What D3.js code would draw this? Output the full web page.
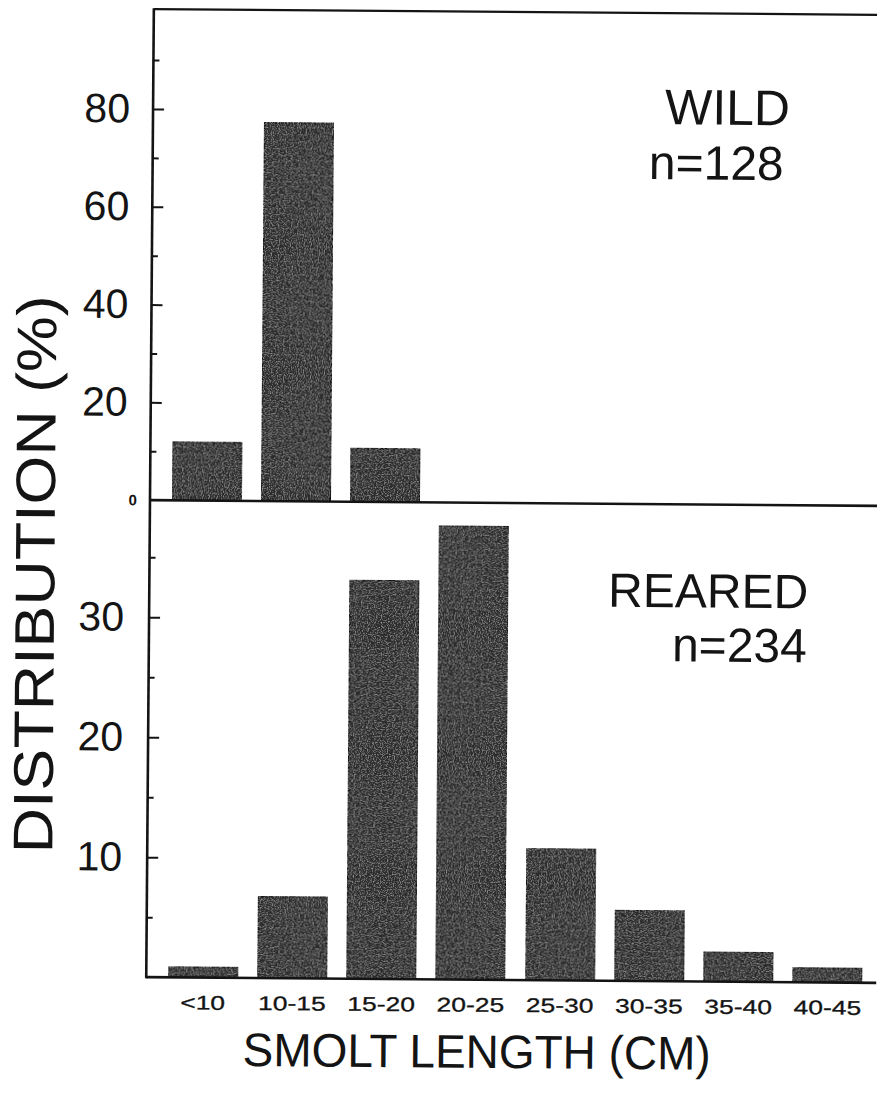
<!DOCTYPE html>
<html>
<head>
<meta charset="utf-8">
<script src="https://cdn.jsdelivr.net/npm/d3@7"></script>
<style>
  body { margin: 0; background: #fff; }
  svg { display: block; }
  text { font-family: "Liberation Sans", Arial, Helvetica, sans-serif; fill: #141414; }
</style>
</head>
<body>
<svg id="chart" width="877" height="1098"></svg>
<script>
// Smolt length classes (cm)
const categories = ["<10", "10-15", "15-20", "20-25", "25-30", "30-35", "35-40", "40-45"];
// Percent of fish in each length class
const wildCategories = ["<10", "10-15", "15-20"];
const wildValues = [11.9, 77.4, 10.9];
const rearedValues = [0.9, 6.8, 33.2, 37.8, 11.0, 5.9, 2.5, 1.2];
// Axis ticks
const wildMajorTicks = [20, 40, 60, 80];
const wildMinorTicks = [10, 30, 50, 70, 90];
const rearedMajorTicks = [10, 20, 30];
const rearedMinorTicks = [5, 15, 25, 35];
// Panel captions
const wildCaption = ["WILD", "n=128"];
const rearedCaption = ["REARED", "n=234"];

const svg = d3.select("#chart");
const ink = "#141414";
const barFill = "#2b2b2b";

// Light speckle on the solid bars
const defs = svg.append("defs");
const grain = defs.append("filter").attr("id", "grain").attr("x", 0).attr("y", 0).attr("width", 1).attr("height", 1);
grain.append("feTurbulence").attr("type", "fractalNoise").attr("baseFrequency", 0.85).attr("numOctaves", 1).attr("seed", 4).attr("result", "noise");
grain.append("feColorMatrix").attr("in", "noise").attr("type", "matrix")
  .attr("values", "0 0 0 0 0.62  0 0 0 0 0.62  0 0 0 0 0.62  0 0 0 1.6 -0.78").attr("result", "specks");
grain.append("feComposite").attr("in", "specks").attr("in2", "SourceGraphic").attr("operator", "in").attr("result", "clipped");
const merge = grain.append("feMerge");
merge.append("feMergeNode").attr("in", "SourceGraphic");
merge.append("feMergeNode").attr("in", "clipped");

// Whole figure sits slightly skewed on the page
const fig = svg.append("g").attr("transform", "rotate(0.45 512 500)");

const axisX = 150, rightX = 880;
const topY = 12, midY = 503, baseY = 980;

const x = d3.scaleBand().domain(categories).range([162, 876])
  .paddingInner(0.227).paddingOuter(0.1135);
const yWild = d3.scaleLinear().domain([0, 100]).range([midY, midY - 489]);
const yReared = d3.scaleLinear().domain([0, 39.75]).range([baseY, midY]);

// Bars
function drawBars(cats, vals, y) {
  fig.append("g").selectAll("rect").data(cats.map((c, i) => ({ c, v: vals[i] })))
    .join("rect")
    .attr("x", d => x(d.c))
    .attr("width", x.bandwidth())
    .attr("y", d => y(d.v))
    .attr("height", d => y(0) - y(d.v))
    .attr("fill", barFill)
    .attr("stroke", "#0c0c0c")
    .attr("stroke-width", 1.4)
    .attr("filter", "url(#grain)");
}
drawBars(wildCategories, wildValues, yWild);
drawBars(categories, rearedValues, yReared);

// Frame lines
const frame = fig.append("g").attr("stroke", ink).attr("fill", "none");
frame.append("line").attr("x1", axisX).attr("x2", rightX).attr("y1", topY).attr("y2", topY).attr("stroke-width", 2.2);
frame.append("line").attr("x1", axisX).attr("x2", rightX).attr("y1", midY).attr("y2", midY).attr("stroke-width", 2.6);
frame.append("line").attr("x1", axisX).attr("x2", rightX).attr("y1", baseY).attr("y2", baseY).attr("stroke-width", 2.6);
frame.append("line").attr("x1", axisX).attr("x2", axisX).attr("y1", topY - 1).attr("y2", baseY + 1).attr("stroke-width", 2.6);

// Y axes with inward ticks
function styleAxis(g, size) {
  g.select(".domain").remove();
  g.selectAll(".tick line").attr("stroke", ink).attr("stroke-width", 2);
  g.selectAll(".tick text").attr("font-size", size).attr("fill", ink);
}
const wildMajor = fig.append("g").attr("transform", `translate(${axisX},0)`)
  .call(d3.axisLeft(yWild).tickValues(wildMajorTicks).tickSizeInner(-11).tickSizeOuter(0).tickPadding(23).tickFormat(d3.format("d")));
styleAxis(wildMajor, 41);
const wildMinor = fig.append("g").attr("transform", `translate(${axisX},0)`)
  .call(d3.axisLeft(yWild).tickValues(wildMinorTicks).tickSizeInner(-6).tickSizeOuter(0).tickFormat(""));
styleAxis(wildMinor, 0);
const wildZero = fig.append("g").attr("transform", `translate(${axisX},0)`)
  .call(d3.axisLeft(yWild).tickValues([0]).tickSize(0).tickPadding(13).tickFormat(d3.format("d")));
styleAxis(wildZero, 15);
wildZero.selectAll(".tick text").attr("font-weight", "bold");

const rearedMajor = fig.append("g").attr("transform", `translate(${axisX},0)`)
  .call(d3.axisLeft(yReared).tickValues(rearedMajorTicks).tickSizeInner(-11).tickSizeOuter(0).tickPadding(25).tickFormat(d3.format("d")));
styleAxis(rearedMajor, 41);
const rearedMinor = fig.append("g").attr("transform", `translate(${axisX},0)`)
  .call(d3.axisLeft(yReared).tickValues(rearedMinorTicks).tickSizeInner(-6).tickSizeOuter(0).tickFormat(""));
styleAxis(rearedMinor, 0);

// X category labels
fig.append("g").selectAll("text").data(categories).join("text")
  .attr("transform", d => `translate(${x(d) + x.bandwidth() / 2},1012) scale(1.2,0.9)`)
  .attr("text-anchor", "middle")
  .attr("font-size", 22)
  .attr("stroke", ink).attr("stroke-width", 0.35)
  .text(d => d);

// Panel captions
const capW = fig.append("g").attr("text-anchor", "end");
capW.append("text").attr("x", 787).attr("y", 123).attr("font-size", 50).text(wildCaption[0]);
capW.append("text").attr("x", 781).attr("y", 178).attr("font-size", 48).text(wildCaption[1]);
const capR = fig.append("g").attr("text-anchor", "end");
capR.append("text").attr("x", 809).attr("y", 606).attr("font-size", 48).text(rearedCaption[0]);
capR.append("text").attr("x", 808).attr("y", 660).attr("font-size", 48).text(rearedCaption[1]);

// Axis titles
fig.append("text")
  .attr("x", 481).attr("y", 1068)
  .attr("text-anchor", "middle")
  .attr("font-size", 47)
  .attr("textLength", 468).attr("lengthAdjust", "spacingAndGlyphs")
  .text("SMOLT LENGTH (CM)");

fig.append("text")
  .attr("transform", "translate(55,578) rotate(-90)")
  .attr("text-anchor", "middle")
  .attr("font-size", 56)
  .attr("textLength", 558).attr("lengthAdjust", "spacingAndGlyphs")
  .text("DISTRIBUTION (%)");
</script>
</body>
</html>
